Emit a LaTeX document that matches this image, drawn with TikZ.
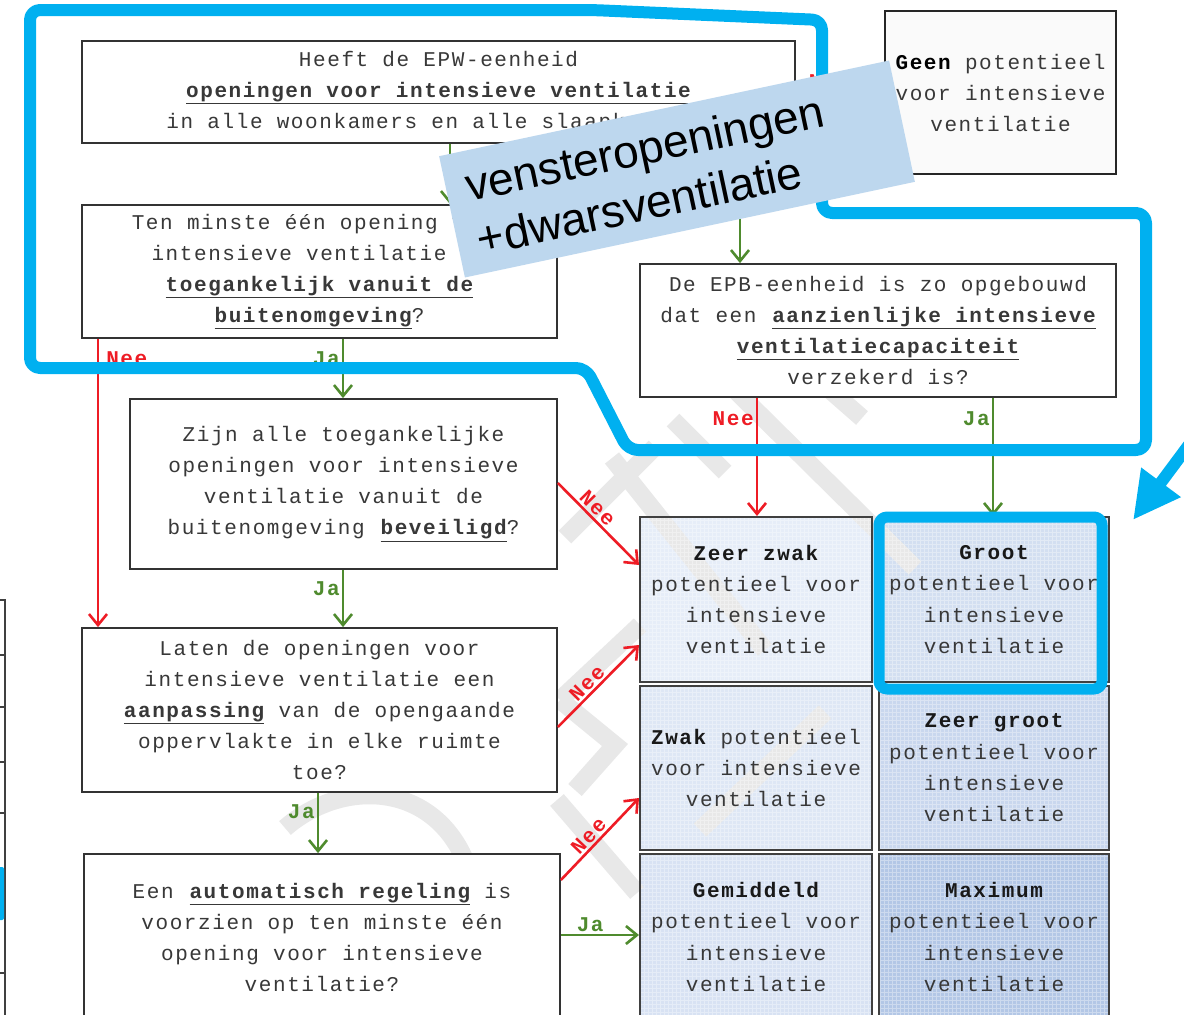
\documentclass[tikz,border=0pt]{standalone}
\usepackage{fontspec}
\setmainfont{Liberation Sans}
\newfontfamily\flowfont[LetterSpace=7.6]{Liberation Mono}
\usetikzlibrary{arrows.meta}
\definecolor{frameblue}{HTML}{00B0F0}
\definecolor{calloutblue}{HTML}{BDD7EE}
\definecolor{nred}{HTML}{EE1C25}
\definecolor{jgreen}{HTML}{4F8B2E}
\definecolor{txtgray}{HTML}{383838}
\definecolor{cA}{HTML}{E6EDF8}
\definecolor{cB}{HTML}{D3DFF1}
\definecolor{cC}{HTML}{DEE7F5}
\definecolor{cD}{HTML}{C9D7EE}
\definecolor{cE}{HTML}{D8E2F3}
\definecolor{cF}{HTML}{B3C7E6}
\pgfdeclarelayer{cellbg}
\pgfdeclarelayer{wm}
\pgfsetlayers{cellbg,wm,main}
\begin{document}
\begin{tikzpicture}[x=1pt,y=-1pt,
  qbox/.style={draw=black!80, line width=1.8, fill=white, inner sep=0pt, align=center,
    text=txtgray, font=\flowfont\fontsize{21}{31}\selectfont},
  cellbox/.style={draw=black!75, line width=2, inner sep=0pt, align=center,
    text=txtgray, font=\flowfont\fontsize{21}{31.3}\selectfont},
  lab/.style={font=\flowfont\bfseries\fontsize{21}{22}\selectfont, inner sep=2pt},
  nee/.style={lab, text=nred},
  ja/.style={lab, text=jgreen},
  rarr/.style={draw=nred, line width=2.6, -{Straight Barb[length=11pt,width=18pt]}},
  garr/.style={draw=jgreen, line width=2.6, -{Straight Barb[length=11pt,width=18pt]}},
  frameline/.style={draw=frameblue, line width=12, rounded corners=10, line join=round},
  wmk/.style={draw=black!9, line width=18},
  cgrid/.style={draw=white, opacity=0.35, line width=0.5},
  callout/.style={fill=calloutblue, minimum width=460, minimum height=124, text width=420,
    inner xsep=20, inner ysep=0pt, align=left, font=\fontsize{46}{55}\selectfont, text=black}
]
\useasboundingbox (0,0) rectangle (1184,1015);
\clip (0,0) rectangle (1184,1015);

% ---------- question boxes ----------
\node[qbox, minimum width=713, minimum height=102] (b1) at (438.5,92)
  {Heeft de EPW-eenheid\\\textbf{\underline{openingen voor intensieve ventilatie}}\\in alle woonkamers en alle slaapkamers?};
\node[qbox, minimum width=231, minimum height=163, draw=black!85, line width=2, fill=black!2] (geen) at (1000.5,92.5)
  {\textbf{\color{black}Geen} potentieel\\voor intensieve\\ventilatie};
\node[qbox, minimum width=475, minimum height=133] (b2) at (319.5,271.5)
  {Ten minste één opening voor\\intensieve ventilatie is\\\textbf{\underline{toegankelijk vanuit de}}\\\textbf{\underline{buitenomgeving}}?};
\node[qbox, minimum width=476, minimum height=133] (b3) at (878,330.5)
  {De EPB-eenheid is zo opgebouwd\\dat een \textbf{\underline{aanzienlijke intensieve}}\\\textbf{\underline{ventilatiecapaciteit}}\\verzekerd is?};
\node[qbox, minimum width=427, minimum height=170] (b4) at (343.5,484)
  {Zijn alle toegankelijke\\openingen voor intensieve\\ventilatie vanuit de\\buitenomgeving \textbf{\underline{beveiligd}}?};
\node[qbox, minimum width=475, minimum height=164] (b5) at (319.5,710)
  {Laten de openingen voor\\intensieve ventilatie een\\\textbf{\underline{aanpassing}} van de opengaande\\oppervlakte in elke ruimte\\toe?};
\node[qbox, minimum width=476, minimum height=166] (b6) at (322,937)
  {Een \textbf{\underline{automatisch regeling}} is\\voorzien op ten minste één\\opening voor intensieve\\ventilatie?};

% ---------- result cells ----------
\node[cellbox, minimum width=232, minimum height=165] (zz) at (756,599.5)
  {\textbf{\color{black!90}Zeer zwak}\\potentieel voor\\intensieve\\ventilatie};
\node[cellbox, minimum width=230, minimum height=165] (groot) at (994,599.5)
  {\textbf{\color{black!90}Groot}\\potentieel voor\\intensieve\\ventilatie};
\node[cellbox, minimum width=232, minimum height=164] (zwak) at (756,768)
  {\textbf{\color{black!90}Zwak} potentieel\\voor intensieve\\ventilatie};
\node[cellbox, minimum width=230, minimum height=164] (zg) at (994,768)
  {\textbf{\color{black!90}Zeer groot}\\potentieel voor\\intensieve\\ventilatie};
\node[cellbox, minimum width=232, minimum height=166] (gem) at (756,937)
  {\textbf{\color{black!90}Gemiddeld}\\potentieel voor\\intensieve\\ventilatie};
\node[cellbox, minimum width=230, minimum height=166] (max) at (994,937)
  {\textbf{\color{black!90}Maximum}\\potentieel voor\\intensieve\\ventilatie};

% ---------- backgrounds: cell fills ----------
\begin{pgfonlayer}{cellbg}
  \fill[white] (0,0) rectangle (1184,1015);
  \fill[cA] (zz.north west) rectangle (zz.south east);
  \fill[cB] (groot.north west) rectangle (groot.south east);
  \fill[cC] (zwak.north west) rectangle (zwak.south east);
  \fill[cD] (zg.north west) rectangle (zg.south east);
  \fill[cE] (gem.north west) rectangle (gem.south east);
  \fill[cF] (max.north west) rectangle (max.south east);
\end{pgfonlayer}

% ---------- watermark + texture ----------
\begin{pgfonlayer}{wm}
  \draw[wmk] (565,537) -- (655,447);
  \draw[wmk] (612,458) -- (765,650);
  \draw[wmk] (673,420) -- (725,472);
  \draw[wmk] (735,390) -- (915,568);
  \draw[wmk] (830,390) -- (862,418);
  \draw[wmk] (560,700) -- (640,625);
  \draw[wmk] (560,700) -- (615,745) -- (575,790);
  \draw[wmk] (700,830) -- (825,712);
  \draw[wmk] (557,800) -- (637,893);
  \draw[wmk] (285,828) .. controls (340,780) and (430,780) .. (465,860);
  \foreach \c in {zz,groot,zwak,zg,gem,max}{
    \draw[cgrid, step=4pt] (\c.north west) grid (\c.south east);
  }
\end{pgfonlayer}

% ---------- connectors ----------
\draw[garr] ([xshift=11.5]b1.south) -- ([xshift=130.5]b2.north);
\draw[garr] ([xshift=301.5]b1.south) -- ([xshift=-138]b3.north);
\draw[rarr] (b1.east) -- node[nee, above, pos=0.38] {Nee} (b1.east -| geen.west);
\draw[garr] ([xshift=23.5]b2.south) -- node[ja, left, pos=0.33] {Ja} ([xshift=-0.5]b4.north);
\draw[rarr] ([xshift=-221.5]b2.south) -- node[nee, right, pos=0.07, xshift=5] {Nee} ([xshift=-221.5]b5.north);
\draw[garr] ([xshift=-0.5]b4.south) -- node[ja, left, pos=0.32] {Ja} ([xshift=23.5]b5.north);
\draw[rarr] ([yshift=1]b4.east) -- node[nee, sloped, above, pos=0.4] {Nee} ([yshift=34.5]zz.west);
\draw[rarr] ([yshift=-17]b5.east) -- node[nee, sloped, above, pos=0.45] {Nee} ([yshift=-45.5]zz.west);
\draw[garr] ([xshift=-1.5]b5.south) -- node[ja, left, pos=0.32] {Ja} ([xshift=-4]b6.north);
\draw[rarr] ([yshift=57]b6.east) -- node[nee, sloped, above, pos=0.45] {Nee} ([yshift=-30]zwak.west);
\draw[garr] ([yshift=2]b6.east) -- node[ja, above, pos=0.375] {Ja} ([yshift=2]gem.west);
\draw[rarr] ([xshift=-121]b3.south) -- node[nee, left, pos=0.18] {Nee} ([xshift=1]zz.north);
\draw[garr] ([xshift=115]b3.south) -- node[ja, left, pos=0.18] {Ja} ([xshift=-1]groot.north);

% ---------- left table fragment ----------
\draw[black!75, line width=1.5] (5,600) -- (5,1015);
\foreach \yy in {600,655,707,762,813,973}{
  \draw[black!75, line width=1.5] (0,\yy) -- (6,\yy);
}
\fill[frameblue, rounded corners=2] (-4,867) rectangle (4,920);

% ---------- overlays ----------
\draw[frameline] (30,10) -- (592,10) -- (822,20) -- (822,213) -- (1146,213)
  -- (1146,450) -- (628,450) -- (586,368) -- (30,368) -- cycle;
\draw[frameline, line width=11, rounded corners=8] (879,517) rectangle (1102,689);
\node[callout, rotate=12] (co) at (677,169) {vensteropeningen\\+dwarsventilatie};
\coordinate (bs) at (1197,434);
\coordinate (bt) at (1133,520);
\draw[draw=frameblue, line width=12, -{Triangle[length=47pt,width=46pt]}] (bs) -- (bt);
\end{tikzpicture}
\end{document}
